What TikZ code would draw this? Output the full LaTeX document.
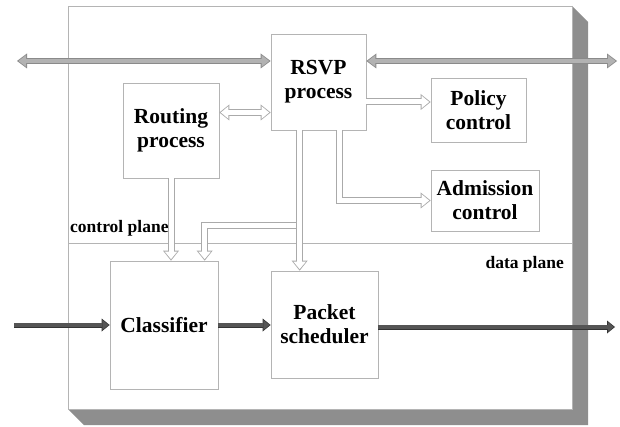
\documentclass[tikz,border=0pt]{standalone}
\usepackage{fontspec}
\setmainfont{Liberation Serif}
\usetikzlibrary{arrows.meta,calc}

\definecolor{boxline}{HTML}{B4B4B4}
\definecolor{shadowgray}{HTML}{8E8E8E}
\definecolor{hollowedge}{HTML}{AAAAAA}
\definecolor{topfill}{HTML}{B2B2B2}
\definecolor{topedge}{HTML}{8A8A8A}
\definecolor{datafill}{HTML}{555555}
\definecolor{dataedge}{HTML}{333333}

\tikzset{
  unit/.style={draw=boxline, line width=0.7pt, fill=white, inner sep=0pt,
    align=center, font=\fontsize{21.5}{24}\selectfont\bfseries},
  planelabel/.style={inner sep=0pt, font=\fontsize{17.5}{20}\selectfont\bfseries},
  % hollow block arrow: grey outline, white body
  hollow/.style={draw=hollowedge, line width=7pt, line join=miter,
    -{Triangle[width=16pt,length=10pt,line width=0pt]},
    postaction={draw=white, line width=5pt, line join=miter,
      -{Triangle[width=12.6pt,length=7.6pt,line width=0pt]}, shorten >=1.5pt}},
  hollowtwo/.style={draw=hollowedge, line width=7pt,
    {Triangle[width=16pt,length=10pt,line width=0pt]}-{Triangle[width=16pt,length=10pt,line width=0pt]},
    postaction={draw=white, line width=5pt,
      {Triangle[width=12.6pt,length=7.6pt,line width=0pt]}-{Triangle[width=12.6pt,length=7.6pt,line width=0pt]},
      shorten >=1.5pt, shorten <=1.5pt}},
  % signalling arrows leaving the router
  sigarrow/.style={draw=topedge, line width=6pt,
    {Triangle[width=15pt,length=10pt,line width=0pt]}-{Triangle[width=15pt,length=10pt,line width=0pt]},
    postaction={draw=topfill, line width=4pt,
      {Triangle[width=11.8pt,length=7.6pt,line width=0pt]}-{Triangle[width=11.8pt,length=7.6pt,line width=0pt]},
      shorten >=1.5pt, shorten <=1.5pt}},
  % data path arrows
  dataarrow/.style={draw=dataedge, line width=5pt,
    -{Triangle[width=13pt,length=8pt,line width=0pt]},
    postaction={draw=datafill, line width=3.4pt,
      -{Triangle[width=10pt,length=6pt,line width=0pt]}, shorten >=1.2pt}},
}

\begin{document}
\begin{tikzpicture}[x=1pt, y=-1pt]
\useasboundingbox (0,0) rectangle (620,427);

% router chassis with drop shadow
\fill[shadowgray] (572,6) -- (588,22) -- (588,425) -- (84,425) -- (68,409) -- (572,409) -- cycle;
\draw[boxline, line width=0.7pt, fill=white] (68,6) rectangle (572,409);
\draw[boxline, line width=0.7pt] (68,243) -- (572,243);

% functional blocks
\node[unit, minimum width=95pt, minimum height=96pt] (rsvp) at (318.5,82) {RSVP\\process};
\node[unit, minimum width=96pt, minimum height=95pt] (routing) at (171,130.5) {Routing\\process};
\node[unit, minimum width=95pt, minimum height=64pt] (policy) at (478.5,110) {Policy\\control};
\node[unit, minimum width=108pt, minimum height=61pt] (admission) at (485,200.5) {Admission\\control};
\node[unit, minimum width=108pt, minimum height=128pt] (classifier) at (164,325) {Classifier};
\node[unit, minimum width=107pt, minimum height=107pt] (scheduler) at (324.5,324.5) {Packet\\scheduler};

% plane labels
\node[planelabel, anchor=west] (cplane) at (70,228) {control plane};
\node[planelabel, anchor=east] (dplane) at (564,264) {data plane};

% RSVP messages to and from neighbouring routers
\coordinate (nbL) at (17,61);
\coordinate (nbR) at (617,61);
\draw[sigarrow] (nbL) -- (nbL -| rsvp.west);
\draw[sigarrow] (nbR -| rsvp.east) -- (nbR);

% control plane interactions
\coordinate (rr) at ($(routing.east)+(0,-18)$);
\draw[hollowtwo] (rr) -- (rr -| rsvp.west);
\coordinate (pc) at ($(policy.west)+(0,-8)$);
\draw[hollow] (pc -| rsvp.east) -- (pc);
\coordinate (rsA) at ($(rsvp.south west)+(69,0)$);
\draw[hollow] (rsA) |- (admission.west);
\draw[hollow] (routing.south) -- (routing.south |- classifier.north);
\coordinate (rsS) at ($(rsvp.south west)+(29,0)$);
\coordinate (br) at (rsS |- 0,225.5);
\coordinate (brc) at ($(classifier.north west)+(95,0)$);
\draw[hollow] (br) -| (brc);
\draw[hollow] (rsS) -- (rsS |- scheduler.north);

% data path
\coordinate (pktin) at (14,325);
\coordinate (pktout) at (615,327);
\draw[dataarrow] (pktin) -- (classifier.west);
\draw[dataarrow] (classifier.east) -- (classifier.east -| scheduler.west);
\draw[dataarrow] (pktout -| scheduler.east) -- (pktout);
\end{tikzpicture}
\end{document}
